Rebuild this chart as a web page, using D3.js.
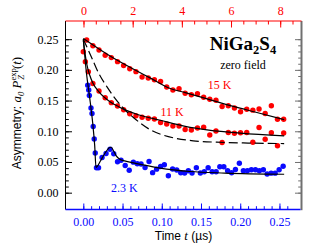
<!DOCTYPE html>
<html><head><meta charset="utf-8">
<script src="https://cdn.jsdelivr.net/npm/d3@7"></script>
<style>html,body{margin:0;padding:0;background:#fff;}svg{display:block;}</style>
</head><body>
<svg id="c" width="312" height="249"></svg>
<script>
// ---- data (time in µs, asymmetry) ----
const t15 = [0.0043,0.0122,0.0200,0.0279,0.0357,0.0436,0.0514,0.0592,0.0671,0.0749,0.0828,0.0906,0.0985,0.1063,0.1142,0.1220,0.1298,0.1377,0.1455,0.1534,0.1612,0.1691,0.1769,0.1848,0.1926,0.2004,0.2083,0.2161,0.2240,0.2318,0.2397,0.2475,0.2554];
const a15 = [0.2487,0.2394,0.2324,0.2239,0.2200,0.2134,0.2072,0.2018,0.1971,0.1884,0.1868,0.1840,0.1811,0.1721,0.1673,0.1694,0.1619,0.1594,0.1611,0.1554,0.1521,0.1505,0.1404,0.1415,0.1379,0.1318,0.1358,0.1344,0.1363,0.1290,0.1415,0.1197,0.1195];
const t11 = [0.0000,0.0026,0.0064,0.0122,0.0200,0.0279,0.0357,0.0436,0.0514,0.0592,0.0671,0.0749,0.0828,0.0906,0.0985,0.1063,0.1142,0.1220,0.1298,0.1377,0.1455,0.1534,0.1612,0.1691,0.1769,0.1848,0.1926,0.2004,0.2083,0.2161,0.2240,0.2318,0.2397,0.2475,0.2554];
const a11 = [0.2296,0.2134,0.1971,0.1779,0.1656,0.1547,0.1466,0.1412,0.1350,0.1285,0.1254,0.1228,0.1212,0.1200,0.1143,0.1119,0.1086,0.1086,0.1029,0.1021,0.1054,0.1067,0.0940,0.1005,0.0818,0.0980,0.0969,0.0976,0.0980,0.0821,0.1062,0.0871,0.0977,0.0765,0.0972];
const t23 = [0.0056,0.0069,0.0077,0.0098,0.0111,0.0126,0.0139,0.0152,0.0168,0.0194,0.0239,0.0290,0.0341,0.0388,0.0436,0.0481,0.0534,0.0585,0.0638,0.0688,0.0736,0.0787,0.0838,0.0883,0.0934,0.0985,0.1033,0.1084,0.1138,0.1191,0.1242,0.1291,0.1339,0.1386,0.1441,0.1492,0.1542,0.1591,0.1642,0.1693,0.1740,0.1791,0.1839,0.1890,0.1939,0.1989,0.2040,0.2091,0.2142,0.2194,0.2244,0.2295,0.2343,0.2394,0.2445,0.2496,0.2547];
const a23 = [0.1751,0.1673,0.1583,0.1379,0.1290,0.1078,0.0875,0.0647,0.0407,0.0407,0.0573,0.0638,0.0708,0.0634,0.0503,0.0529,0.0443,0.0365,0.0497,0.0472,0.0467,0.0410,0.0508,0.0326,0.0383,0.0427,0.0454,0.0275,0.0386,0.0370,0.0324,0.0321,0.0357,0.0321,0.0407,0.0321,0.0342,0.0407,0.0342,0.0342,0.0423,0.0423,0.0358,0.0324,0.0378,0.0479,0.0358,0.0358,0.0373,0.0373,0.0358,0.0373,0.0305,0.0318,0.0318,0.0373,0.0430];
// fit curves
const fit15T = [0, 0.02, 0.04, 0.06, 0.085, 0.11, 0.13, 0.16, 0.19, 0.22, 0.256];
const fit15A = [0.251, 0.234, 0.218, 0.204, 0.187, 0.170, 0.163, 0.152, 0.141, 0.131, 0.119];
const fit11T = [0, 0.004, 0.008, 0.012, 0.02, 0.034, 0.045, 0.055, 0.07, 0.098, 0.13, 0.16, 0.20, 0.256];
const fit11A = [0.248, 0.212, 0.192, 0.179, 0.164, 0.148, 0.140, 0.134, 0.127, 0.118, 0.108, 0.102, 0.097, 0.0925];
const fitDashT = [0, 0.011, 0.0194, 0.030, 0.0404, 0.0532, 0.0638, 0.0842, 0.10, 0.118, 0.14, 0.17, 0.21, 0.256];
const fitDashA = [0.25, 0.219, 0.195, 0.1726, 0.1537, 0.1347, 0.1225, 0.1033, 0.0945, 0.0885, 0.0845, 0.0822, 0.0808, 0.0800];
const fit23T = [0, 0.004, 0.008, 0.012, 0.0145, 0.0162, 0.0178, 0.022, 0.028, 0.033, 0.0355, 0.039, 0.042, 0.046, 0.055, 0.07, 0.098, 0.136, 0.18, 0.256];
const fit23A = [0.25, 0.195, 0.156, 0.113, 0.077, 0.041, 0.043, 0.052, 0.065, 0.073, 0.074, 0.067, 0.060, 0.055, 0.051, 0.047, 0.040, 0.0345, 0.032, 0.030];
// ticks
const yTicks = [0, 0.05, 0.10, 0.15, 0.20, 0.25];
const xTicks = [0, 0.05, 0.10, 0.15, 0.20, 0.25];
const topTicks = [0, 2, 4, 6, 8];
const seriesLabels = ["15 K", "11 K", "2.3 K"];

const RED = "#ff0000", BLUE = "#0a0aff";
const svg = d3.select("#c");
const L = 65.5, R = 301.5, T = 21, B = 209.5;
const x = d3.scaleLinear().domain([-0.0227, 0.2781]).range([L, R]);
const xTop = d3.scaleLinear().domain([-0.732, 8.866]).range([L, R]);
const y = d3.scaleLinear().domain([-0.0274, 0.2796]).range([B, T]);
const serif = "'Liberation Serif','Times New Roman',serif";
const sans = "'Liberation Sans',Arial,sans-serif";

function styleAxis(g, color, fs) {
  g.select(".domain").remove();
  g.selectAll("line").attr("stroke", color);
  g.selectAll("text").attr("fill", color).attr("font-family", serif).attr("font-size", fs);
}
// minor ticks
const yMinor = d3.range(0, 0.2501, 0.01);
const xMinor = d3.range(0, 0.2601, 0.01);
const topMinor = d3.range(0, 8.51, 0.5);

svg.append("g").attr("transform", `translate(${L},0)`).call(d3.axisLeft(y).tickValues(yMinor).tickSize(-3.3).tickFormat("")).call(g => styleAxis(g, "#000", 12));
svg.append("g").attr("transform", `translate(${L},0)`).call(d3.axisLeft(y).tickValues(yTicks).tickSize(-6.5).tickPadding(7).tickFormat(d3.format(".2f"))).call(g => styleAxis(g, "#000", 12));
svg.append("g").attr("transform", `translate(${R},0)`).call(d3.axisRight(y).tickValues(yMinor).tickSize(-3.3).tickFormat("")).call(g => styleAxis(g, "#707070", 12));
svg.append("g").attr("transform", `translate(${R},0)`).call(d3.axisRight(y).tickValues(yTicks).tickSize(-6.5).tickFormat("")).call(g => styleAxis(g, "#707070", 12));
svg.append("g").attr("transform", `translate(0,${B})`).call(d3.axisBottom(x).tickValues(xMinor).tickSize(-3.3).tickFormat("")).call(g => styleAxis(g, BLUE, 12));
svg.append("g").attr("transform", `translate(0,${B})`).call(d3.axisBottom(x).tickValues(xTicks).tickSize(-6).tickPadding(8).tickFormat(d3.format(".2f"))).call(g => styleAxis(g, BLUE, 12));
svg.append("g").attr("transform", `translate(0,${T})`).call(d3.axisTop(xTop).tickValues(topMinor).tickSize(-3.5).tickFormat("")).call(g => styleAxis(g, RED, 12));
svg.append("g").attr("transform", `translate(0,${T})`).call(d3.axisTop(xTop).tickValues(topTicks).tickSize(-6.5).tickPadding(5.7).tickFormat(d3.format("d"))).call(g => styleAxis(g, RED, 12));

// frame
svg.append("line").attr("x1", L).attr("x2", L).attr("y1", T).attr("y2", B).attr("stroke", "#000").attr("stroke-width", 1);
svg.append("line").attr("x1", R).attr("x2", R).attr("y1", T).attr("y2", B + 0.7).attr("stroke", "#707070").attr("stroke-width", 2);
svg.append("line").attr("x1", L).attr("x2", R).attr("y1", T).attr("y2", T).attr("stroke", RED).attr("stroke-width", 1);
svg.append("line").attr("x1", L).attr("x2", R - 1).attr("y1", B).attr("y2", B).attr("stroke", BLUE).attr("stroke-width", 1.4);

// points
function dots(ts, as, color) {
  svg.append("g").selectAll("circle").data(ts.map((t, i) => [t, as[i]])).join("circle")
    .attr("cx", d => x(d[0])).attr("cy", d => y(d[1])).attr("r", 2.7).attr("fill", color);
}
dots(t15, a15, RED);
dots(t11, a11, RED);
dots(t23, a23, BLUE);

// fits
const line = d3.line().x(d => x(d[0])).y(d => y(d[1])).curve(d3.curveMonotoneX);
function fit(ts, as, dash) {
  svg.append("path").attr("d", line(ts.map((t, i) => [t, as[i]])))
    .attr("fill", "none").attr("stroke", "#000").attr("stroke-width", 1.2)
    .attr("stroke-dasharray", dash || null);
}
fit(fitDashT, fitDashA, "9,4");
fit(fit15T, fit15A);
fit(fit11T, fit11A);
fit(fit23T, fit23A);

// annotations
svg.append("text").attr("x", 219.5).attr("y", 89.3).attr("text-anchor", "middle").attr("font-family", serif).attr("font-size", 12).attr("fill", RED).text(seriesLabels[0]);
svg.append("text").attr("x", 172).attr("y", 115.8).attr("text-anchor", "middle").attr("font-family", serif).attr("font-size", 12).attr("fill", RED).text(seriesLabels[1]);
svg.append("text").attr("x", 124.3).attr("y", 191.7).attr("text-anchor", "middle").attr("font-family", serif).attr("font-size", 12).attr("fill", BLUE).text(seriesLabels[2]);

const title = svg.append("text").attr("x", 243).attr("y", 50).attr("text-anchor", "middle").attr("font-family", serif).attr("font-size", 19).attr("font-weight", "bold").attr("fill", "#000");
title.append("tspan").text("NiGa");
title.append("tspan").attr("font-size", 12.5).attr("dy", 4).text("2");
title.append("tspan").attr("dy", -4).text("S");
title.append("tspan").attr("font-size", 12.5).attr("dy", 4).text("4");
svg.append("text").attr("x", 243).attr("y", 69).attr("text-anchor", "middle").attr("font-family", serif).attr("font-size", 12).attr("fill", "#000").text("zero field");

// axis titles
const xt = svg.append("text").attr("x", 183.5).attr("y", 240).attr("text-anchor", "middle").attr("font-family", sans).attr("font-size", 12).attr("fill", "#000");
xt.append("tspan").text("Time ");
xt.append("tspan").attr("font-family", serif).attr("font-style", "italic").attr("font-size", 13).text("t");
xt.append("tspan").text(" (µs)");

const yt = svg.append("text").attr("transform", "translate(21,113) rotate(-90)").attr("text-anchor", "middle").attr("font-family", sans).attr("font-size", 12).attr("fill", "#000");
yt.append("tspan").text("Asymmetry: ");
yt.append("tspan").attr("font-family", serif).attr("font-style", "italic").attr("font-size", 13).text("a");
yt.append("tspan").attr("font-family", serif).attr("font-style", "italic").attr("font-size", 8.5).attr("dy", 2.5).text("0");
yt.append("tspan").attr("font-family", serif).attr("font-size", 13).attr("dy", -2.5).text(" ");
yt.append("tspan").attr("font-family", serif).attr("font-style", "italic").attr("font-size", 13).text("P");
yt.append("tspan").attr("font-family", serif).attr("font-size", 8.5).attr("dy", -5).text("exp");
yt.append("tspan").attr("font-family", serif).attr("font-style", "italic").attr("font-size", 8.5).attr("dx", -11.5).attr("dy", 8).text("Z");
yt.append("tspan").attr("font-family", serif).attr("font-size", 13).attr("dx", 6).attr("dy", -3).text("(");
yt.append("tspan").attr("font-family", serif).attr("font-style", "italic").attr("font-size", 13).text("t");
yt.append("tspan").attr("font-family", serif).attr("font-size", 13).text(")");
</script>
</body></html>
